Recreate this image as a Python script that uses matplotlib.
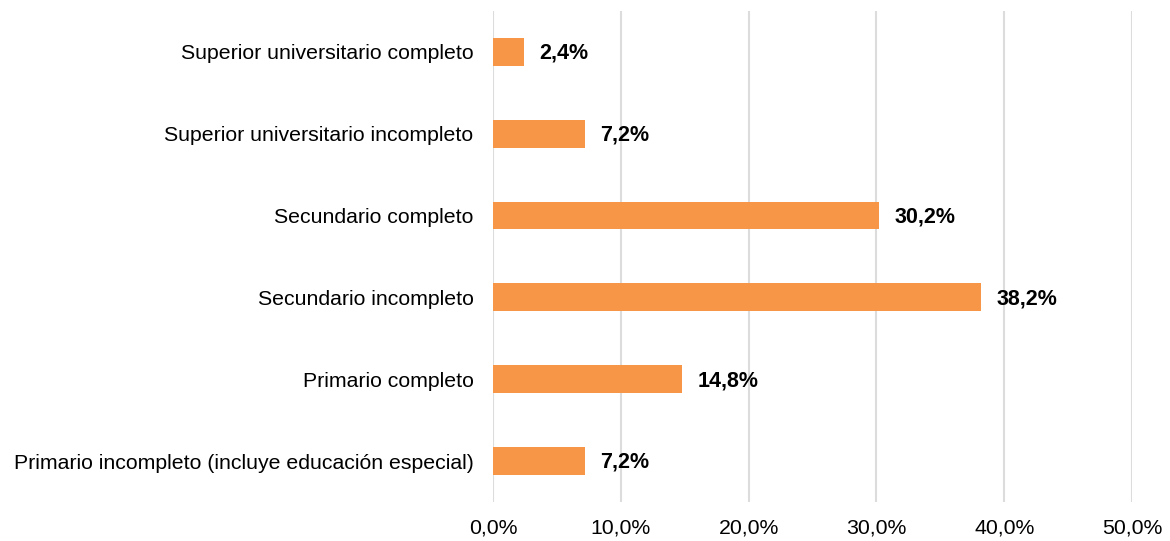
import matplotlib.pyplot as plt
from matplotlib.ticker import FuncFormatter

# niveles educativos (de abajo hacia arriba)
categorias = [
    "Primario incompleto (incluye educación especial)",
    "Primario completo",
    "Secundario incompleto",
    "Secundario completo",
    "Superior universitario incompleto",
    "Superior universitario completo",
]
valores = [7.2, 14.8, 38.2, 30.2, 7.2, 2.4]
ticks_x = [0, 10, 20, 30, 40, 50]

plt.rcParams['font.family'] = ['Liberation Sans', 'DejaVu Sans']

fig = plt.figure(figsize=(11.7, 5.41), dpi=100)
ax = fig.add_axes([0.4214, 0.0721, 0.5461, 0.9076])

y = range(len(categorias))
ax.barh(y, valores, height=0.34, color="#F79646", zorder=3)

for yi, v in zip(y, valores):
    ax.annotate(f"{v:.1f}%".replace(".", ","), (v, yi), xytext=(11, -1),
                textcoords="offset points", va="center", ha="left",
                fontsize=15.5, fontweight="bold", color="black")

ax.set_xlim(0, 50)
ax.set_ylim(-0.5, len(categorias) - 0.5)
ax.set_xticks(ticks_x)
ax.xaxis.set_major_formatter(FuncFormatter(lambda x, p: f"{x:.1f}%".replace(".", ",")))
ax.set_yticks(list(y))
ax.set_yticklabels(categorias)
ax.tick_params(axis="both", length=0, labelsize=15.3, colors="black")
ax.tick_params(axis="x", pad=12)
ax.tick_params(axis="y", pad=14)
ax.grid(axis="x", color="#dcdcdc", linewidth=1.5, zorder=0)
for s in ax.spines.values():
    s.set_visible(False)

fig.savefig("out.png", dpi=100)
